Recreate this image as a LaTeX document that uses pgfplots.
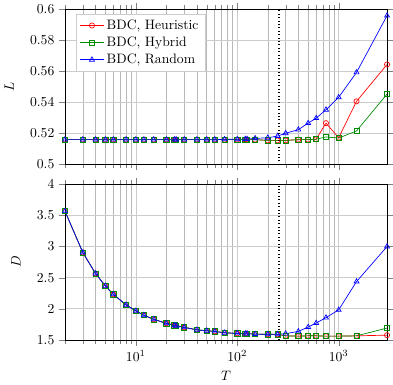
\documentclass[border=0pt]{standalone}
\usepackage{pgfplots}
\pgfplotsset{compat=1.18}
\usepackage{pgfplotstable}
\usepgfplotslibrary{groupplots}
\definecolor{dgreen}{RGB}{0,140,0}

\pgfplotstableread{
x     Lheu    Lhyb    Lran    Dheu   Dhyb   Dran
2     0.516   0.516   0.516   3.568  3.568  3.568
3     0.516   0.516   0.516   2.903  2.903  2.903
4     0.516   0.516   0.516   2.567  2.567  2.567
5     0.516   0.516   0.516   2.367  2.367  2.367
6     0.516   0.516   0.516   2.231  2.231  2.231
8     0.516   0.516   0.516   2.063  2.063  2.063
10    0.516   0.516   0.516   1.966  1.966  1.966
12    0.516   0.516   0.516   1.896  1.896  1.896
15    0.516   0.516   0.516   1.831  1.831  1.831
20    0.516   0.516   0.516   1.766  1.766  1.766
24    0.516   0.516   0.516   1.734  1.734  1.734
25    0.516   0.516   0.516   1.727  1.727  1.727
30    0.516   0.516   0.516   1.701  1.701  1.701
40    0.516   0.516   0.516   1.662  1.662  1.662
50    0.516   0.516   0.516   1.646  1.646  1.646
60    0.516   0.516   0.516   1.636  1.636  1.636
75    0.516   0.516   0.5162  1.614  1.614  1.614
100   0.516   0.516   0.5162  1.604  1.604  1.604
120   0.516   0.516   0.5163  1.600  1.600  1.600
125   0.516   0.516   0.5163  1.600  1.600  1.600
150   0.516   0.516   0.5168  1.593  1.593  1.593
200   0.5155  0.5155  0.5172  1.590  1.590  1.590
250   0.5155  0.5155  0.5183  1.588  1.588  1.590
300   0.5155  0.5155  0.5201  1.565  1.565  1.600
400   0.516   0.516   0.5224  1.560  1.560  1.636
500   0.516   0.516   0.5266  1.565  1.565  1.706
600   0.5163  0.5163  0.5298  1.565  1.565  1.771
750   0.5266  0.5177  0.5352  1.560  1.560  1.857
1000  0.5172  0.5170  0.5432  1.560  1.560  1.982
1500  0.5406  0.5216  0.5592  1.565  1.565  2.437
3000  0.5643  0.5453  0.5957  1.576  1.690  3.000
}\datatable

\begin{document}
\begin{tikzpicture}
\begin{groupplot}[
  group style={group size=1 by 2, vertical sep=14.5pt, xticklabels at=edge bottom},
  width=236pt, height=114pt, scale only axis,
  xmode=log, xmin=2, xmax=3000,
  grid=both,
  major grid style={black!20},
  minor grid style={black!28},
  tick align=outside,
  tick style={black!50},
  ylabel shift=5pt,
  every axis plot/.append style={line width=0.5pt, mark options={solid, fill=white}},
]
\nextgroupplot[
  ymin=0.5, ymax=0.6, ytick={0.5,0.52,0.54,0.56,0.58,0.6},
  yticklabel style={/pgf/number format/fixed, /pgf/number format/precision=2},
  ylabel={$L$},
  legend style={at={(0.033,0.968)}, anchor=north west, draw=black!20, cells={anchor=west}, font=\normalsize},
]
\addplot[red, mark=o, mark size=1.9pt] table[x=x, y=Lheu] {\datatable};
\addlegendentry{BDC, Heuristic}
\addplot[dgreen, mark=square, mark size=1.9pt] table[x=x, y=Lhyb] {\datatable};
\addlegendentry{BDC, Hybrid}
\addplot[blue, mark=triangle, mark size=2.1pt] table[x=x, y=Lran] {\datatable};
\addlegendentry{BDC, Random}
\addplot[black, dotted, line width=1.4pt, forget plot] coordinates {(256,0.5) (256,0.6)};

\nextgroupplot[
  ymin=1.5, ymax=4, ytick={1.5,2,2.5,3,3.5,4},
  ylabel={$D$}, xlabel={$T$},
]
\addplot[red, mark=o, mark size=1.9pt] table[x=x, y=Dheu] {\datatable};
\addplot[dgreen, mark=square, mark size=1.9pt] table[x=x, y=Dhyb] {\datatable};
\addplot[blue, mark=triangle, mark size=2.1pt] table[x=x, y=Dran] {\datatable};
\addplot[black, dotted, line width=1.4pt, forget plot] coordinates {(256,1.5) (256,4)};
\end{groupplot}
\end{tikzpicture}
\end{document}
